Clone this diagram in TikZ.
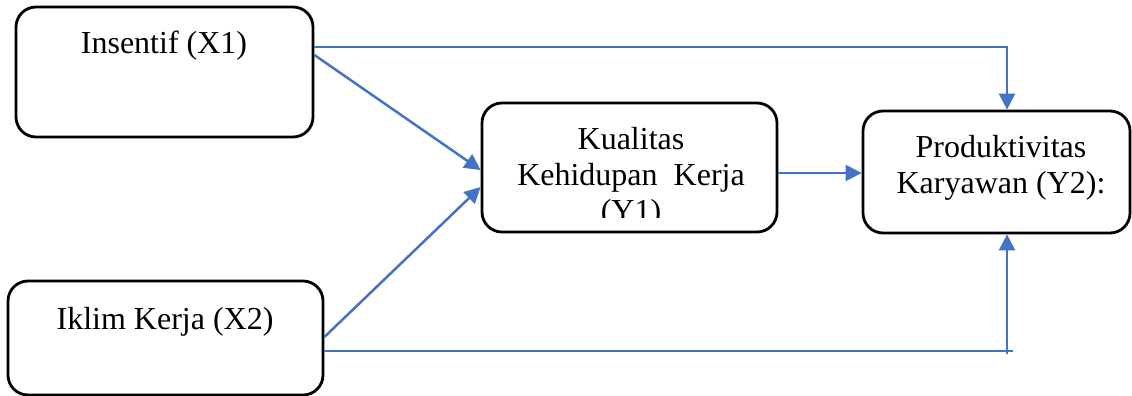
\documentclass[tikz,border=0pt]{standalone}
\usepackage{fontspec}
\setmainfont{Liberation Serif}
\usetikzlibrary{arrows.meta}
\definecolor{arrowblue}{HTML}{4472C4}
\begin{document}
\begin{tikzpicture}[x=1pt,y=-1pt,
  box/.style={draw=black, line width=2.8pt, rounded corners=20pt, inner sep=0pt},
  txt/.style={font=\fontsize{32}{36}\selectfont, inner sep=0pt, anchor=base},
  thinline/.style={draw=arrowblue, line width=1.5pt},
  thickarrow/.style={draw=arrowblue, line width=2.5pt, -{Triangle[length=16pt,width=16pt]}}
]
\useasboundingbox (0,0) rectangle (1132,396);
% boxes
\node[box, minimum width=297pt, minimum height=130pt] (x1) at (164.5,72) {};
\node[box, minimum width=315pt, minimum height=114pt] (x2) at (165.5,338) {};
\node[box, minimum width=295pt, minimum height=129pt] (kq) at (629.5,167.5) {};
\node[box, minimum width=267pt, minimum height=122pt] (y2) at (996.5,172) {};
% texts
\node[txt] (x1t) at (164,54) {Insentif (X1)};
\node[txt] (x2t) at (165,329) {Iklim Kerja (X2)};
\node[txt] (kqa) at (631,149) {Kualitas};
\node[txt] (kqb) at (631,185) {Kehidupan~~Kerja};
\begin{scope}
\clip (482,100) rectangle (777,217);
\node[txt] (kqc) at (631,221) {(Y1)};
\end{scope}
\node[txt] (y2a) at (1001,157) {Produktivitas};
\node[txt] (y2b) at (1001,193) {Karyawan (Y2):};
% connectors
\coordinate (s1) at ([yshift=25pt]x1.east);
\coordinate (t1) at ([xshift=10.5pt]y2.north);
\draw[thinline] (s1) -- (s1 -| t1);
\draw[thickarrow] ([yshift=0.75pt]s1 -| t1) -- (t1);
\draw[thickarrow] ([yshift=17pt]x1.east) -- ([yshift=-2.5pt]kq.west);
\draw[thickarrow] ([yshift=1pt]x2.east) -- ([yshift=-19.5pt]kq.west);
\coordinate (k1) at ([yshift=-5.5pt]kq.east);
\draw[thickarrow] (k1) -- (k1 -| y2.west);
\coordinate (s2) at ([yshift=-13pt]x2.east);
\coordinate (t2) at ([xshift=10.5pt]y2.south);
\coordinate (e2) at ([xshift=6pt]s2 -| t2);
\draw[thinline] (s2) -- (e2);
\draw[thickarrow] ([yshift=-3pt]s2 -| t2) -- (t2);
\end{tikzpicture}
\end{document}
